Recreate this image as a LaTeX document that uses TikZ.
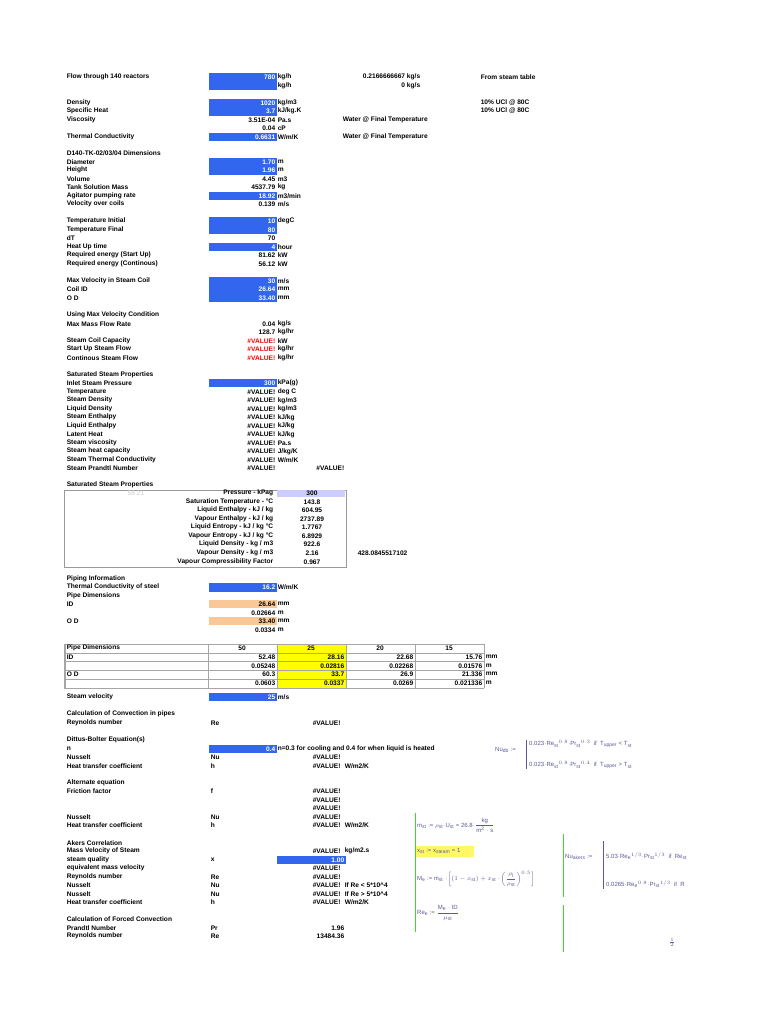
\documentclass[tikz,border=0pt]{standalone}
\usepackage{amsmath}
\usepackage{fontspec}
\setmainfont{Liberation Sans}
\usetikzlibrary{positioning}
\definecolor{cellblue}{RGB}{51,102,238}
\definecolor{cellorange}{RGB}{250,200,150}
\definecolor{cellyellow}{RGB}{255,255,0}
\definecolor{cellviolet}{RGB}{204,204,255}
\definecolor{mcad}{RGB}{90,90,150}
\definecolor{mcgreen}{RGB}{60,220,40}
\tikzset{
  sheet/.style={font=\fontsize{6.6}{7}\selectfont\bfseries, inner sep=0.6pt},
  lab/.style={sheet, anchor=west},
  val/.style={sheet, anchor=east},
  inv/.style={sheet, anchor=east, text=white},
  err/.style={sheet, anchor=east, text=red},
  bar/.style={fill=cellblue, draw=none},
  grid cell/.style={draw=gray!70, line width=0.5pt},
  math/.style={font=\fontsize{6}{7}\selectfont, text=mcad, inner sep=0pt, anchor=west}
}
\begin{document}
\begin{tikzpicture}[x=1pt,y=-1pt]
  \useasboundingbox[fill=white] (0,0) rectangle (768,1024);

  % Input cells (blue)
  \foreach \ya/\yb in {73/90, 99/116, 133/141, 158/175, 192/200, 217/234, 243/251, 277/302, 379/387, 583/592, 693/701, 745/753}
    \fill[bar] (209,\ya) rectangle (277,\yb);
  \fill[bar] (277,856) rectangle (346,864);
  % Pipe cells (orange)
  \fill[cellorange] (209,600) rectangle (277,608);
  \fill[cellorange] (209,617) rectangle (277,625);

  % Left column labels
  \foreach \y/\t in {77/Flow through 140 reactors, 103/Density, 111/Specific Heat, 120/Viscosity, 137/Thermal Conductivity,
      153/{D140-TK-02/03/04 Dimensions}, 162/Diameter, 170/Height, 179/Volume, 187/Tank Solution Mass, 196/Agitator pumping rate, 204/Velocity over coils,
      221/Temperature Initial, 230/Temperature Final, 238/dT, 247/Heat Up time, 255/Required energy (Start Up), 264/Required energy (Continous),
      281/Max Velocity in Steam Coil, 289/Coil ID, 298/O D,
      315/Using Max Velocity Condition, 324/Max Mass Flow Rate, 341/Steam Coil Capacity, 349/Start Up Steam Flow, 358/Continous Steam Flow,
      375/Saturated Steam Properties, 383/Inlet Steam Pressure, 392/Temperature, 400/Steam Density, 409/Liquid Density, 417/Steam Enthalpy,
      426/Liquid Enthalpy, 434/Latent Heat, 443/Steam viscosity, 451/Steam heat capacity, 460/Steam Thermal Conductivity, 468/Steam Prandtl Number,
      485/Saturated Steam Properties,
      579/Piping Information, 587/Thermal Conductivity of steel, 596/Pipe Dimensions, 604/ID, 621/O D,
      697/Steam velocity, 714/Calculation of Convection in pipes, 723/Reynolds number,
      740/Dittus-Bolter Equation(s), 749/n, 757/Nusselt, 766/Heat transfer coefficient,
      783/Alternate equation, 791/Friction factor, 817/Nusselt, 825/Heat transfer coefficient,
      843/Akers Correlation, 851/Mass Velocity of Steam, 860/steam quality, 868/equivalent mass velocity, 877/Reynolds number,
      885/Nusselt, 894/Nusselt, 902/Heat transfer coefficient,
      919/Calculation of Forced Convection, 928/Prandtl Number, 936/Reynolds number}
    \node[lab] at (66,\y) {\t};

  % Values on blue cells
  \foreach \y/\t in {77/780, 103/1020, 111/3.7, 137/0.6631, 162/1.70, 170/1.96, 196/18.92, 221/10, 230/80, 247/4,
      281/30, 289/26.64, 298/33.40, 383/300, 587/16.2, 697/25, 749/0.4}
    \node[inv] at (276,\y) {\t};
  \node[inv] at (345,860) {1.00};
  % Plain values
  \foreach \y/\t in {120/3.51E-04, 128/0.04, 179/4.45, 187/4537.79, 204/0.139, 238/70, 255/81.62, 264/56.12,
      324/0.04, 332/128.7, 604/26.64, 613/0.02664, 621/33.40, 630/0.0334}
    \node[val] at (276,\y) {\t};
  \foreach \y in {341,349,358}
    \node[err] at (276,\y) {\#VALUE!};
  \foreach \y in {392,400.5,...,461}
    \node[val] at (276,\y) {\#VALUE!};
  \node[val] at (276,468) {\#VALUE!};
  \node[val] at (345,468) {\#VALUE!};

  % Units
  \foreach \y/\t in {77/{kg/h}, 86/{kg/h}, 103/{kg/m3}, 111/{kJ/kg.K}, 120/Pa.s, 128/cP, 137/{W/m/K}, 162/m, 170/m, 179/m3, 187/kg,
      196/{m3/min}, 204/{m/s}, 221/degC, 247/hour, 255/kW, 264/kW, 281/{m/s}, 289/mm, 298/mm, 324/{kg/s}, 332/{kg/hr},
      341/kW, 349/{kg/hr}, 358/{kg/hr}, 383/kPa(g), 392/deg C, 400.5/{kg/m3}, 409/{kg/m3}, 417.5/{kJ/kg}, 426/{kJ/kg}, 434.5/{kJ/kg},
      443/Pa.s, 451.5/{J/kg/K}, 460/{W/m/K}, 587/{W/m/K}, 604/mm, 613/m, 621/mm, 630/m, 697/{m/s}}
    \node[lab] at (277,\y) {\t};

  % Right-hand notes
  \node[val] at (421,77) {0.2166666667 kg/s};
  \node[val] at (421,86) {0 kg/s};
  \node[lab] at (480,77) {From steam table};
  \node[lab] at (480,103) {10\% UCl @ 80C};
  \node[lab] at (480,111) {10\% UCl @ 80C};
  \node[lab] at (342,120) {Water @ Final Temperature};
  \node[lab] at (342,137) {Water @ Final Temperature};

  % Steam table box
  \draw[gray!80, line width=0.8pt] (64,490) rectangle (346,567);
  \fill[cellviolet] (277,490) rectangle (345,497);
  \node[sheet, text=gray!40, font=\fontsize{6.6}{7}\selectfont] at (136,493) {58.21};
  \foreach \y/\t/\v in {493/{Pressure - kPag}/300, 502/{Saturation Temperature - °C}/143.8, 510/{Liquid Enthalpy - kJ / kg}/604.95,
      519/{Vapour Enthalpy - kJ / kg}/2737.89, 527/{Liquid Entropy - kJ / kg °C}/1.7767, 536/{Vapour Entropy - kJ / kg °C}/6.8929,
      544/{Liquid Density - kg / m3}/922.6, 553/{Vapour Density - kg / m3}/2.16, 562/{Vapour Compressibility Factor}/0.967} {
    \node[val] at (274,\y) {\t};
    \node[sheet] at (312,\y) {\v};
  }
  \node[lab] at (357,553) {428.0845517102};

  % Pipe dimension table
  \fill[cellyellow] (277,644) rectangle (346,688);
  \foreach \ya in {644,652.8,...,689}
    \draw[grid cell] (64,\ya) -- (484,\ya);
  \foreach \xa in {64,65.5,208,277,346,415,484}
    \draw[grid cell] (\xa,644) -- (\xa,688);
  \node[lab] at (66,648) {Pipe Dimensions};
  \node[lab] at (66,657) {ID};
  \node[lab] at (66,674) {O D};
  \foreach \xa/\t in {242/50, 311/25, 380/20, 449/15}
    \node[sheet] at (\xa,648) {\t};
  \foreach \xa/\a/\b/\c/\d in {276/52.48/0.05248/60.3/0.0603, 345/28.16/0.02816/33.7/0.0337,
      414/22.68/0.02268/26.9/0.0269, 483/15.76/0.01576/21.336/0.021336} {
    \node[val] at (\xa,657) {\a};
    \node[val] at (\xa,666) {\b};
    \node[val] at (\xa,674) {\c};
    \node[val] at (\xa,683) {\d};
  }
  \foreach \y/\t in {657/mm, 666/m, 674/mm, 683/m}
    \node[lab] at (485,\y) {\t};

  % Lower calculation block
  \foreach \y/\t in {723/Re, 757/Nu, 766/h, 791/f, 817/Nu, 825/h, 860/x, 877/Re, 885/Nu, 894/Nu, 902/h, 928/Pr, 936/Re}
    \node[lab] at (210,\y) {\t};
  \foreach \y in {723,757,766,791,800,808,817,825,851,868,877,885,894,902}
    \node[lab] at (312,\y) {\#VALUE!};
  \node[lab] at (277,749) {n=0.3 for cooling and 0.4 for when liquid is heated};
  \foreach \y/\t in {766/{W/m2/K}, 825/{W/m2/K}, 851/{kg/m2.s}, 885/{If Re < 5*10\^{}4}, 894/{If Re > 5*10\^{}4}, 902/{W/m2/K}}
    \node[lab] at (344,\y) {\t};
  \node[val] at (345,928) {1.96};
  \node[val] at (345,936) {13484.36};

  % Worksheet formulas
  \draw[mcad, line width=0.8pt] (526,740) -- (526,769);
  \node[math] at (495,750) {Nu$_\mathrm{db}$ :=};
  \node[math] at (529,744) {0.023$\cdot$Re$_\mathrm{st}{}^{0.8}\cdot$Pr$_\mathrm{st}{}^{0.3}$\ \ if\ \ T$_\mathrm{upper}$ < T$_\mathrm{st}$};
  \node[math] at (529,765) {0.023$\cdot$Re$_\mathrm{st}{}^{0.8}\cdot$Pr$_\mathrm{st}{}^{0.4}$\ \ if\ \ T$_\mathrm{upper}$ > T$_\mathrm{st}$};

  \draw[mcgreen, line width=1pt] (415,813) -- (415,932);
  \draw[mcgreen, line width=1pt] (563,834) -- (563,897);
  \draw[mcgreen, line width=1pt] (563,905) -- (563,952);
  \node[math] at (417,825) {m$_\mathrm{st}$ := $\rho_\mathrm{st}\cdot$U$_\mathrm{st}$ = 26.8$\cdot\dfrac{\mathrm{kg}}{\mathrm{m^2\cdot s}}$};
  \fill[yellow!60] (416,846) rectangle (474,857);
  \node[math] at (417,851) {x$_\mathrm{st}$ := x$_\mathrm{steam}$ = 1};
  \node[math] at (417,879) {M$_\mathrm{e}$ := m$_\mathrm{st}\cdot\!\left[(1-x_\mathrm{st})+x_\mathrm{st}\cdot\!\left(\dfrac{\rho_\mathrm{l}}{\rho_\mathrm{st}}\right)^{0.5}\right]$};
  \node[math] at (417,913) {Re$_\mathrm{e}$ := $\dfrac{\mathrm{M_e\cdot ID}}{\mu_\mathrm{st}}$};
  \draw[mcad, line width=0.8pt] (603,841) -- (603,889);
  \node[math] at (565,857) {Nu$_\mathrm{akers}$ :=};
  \node[math] at (606,856) {5.03$\cdot$Re$_\mathrm{e}{}^{1/3}\cdot$Pr$_\mathrm{st}{}^{1/3}$\ \ if\ \ Re$_\mathrm{st}$};
  \node[math] at (606,884) {0.0265$\cdot$Re$_\mathrm{e}{}^{0.8}\cdot$Pr$_\mathrm{st}{}^{1/3}$\ \ if\ \ R};
  \node[math] at (669,942) {$\frac12$};
\end{tikzpicture}
\end{document}
